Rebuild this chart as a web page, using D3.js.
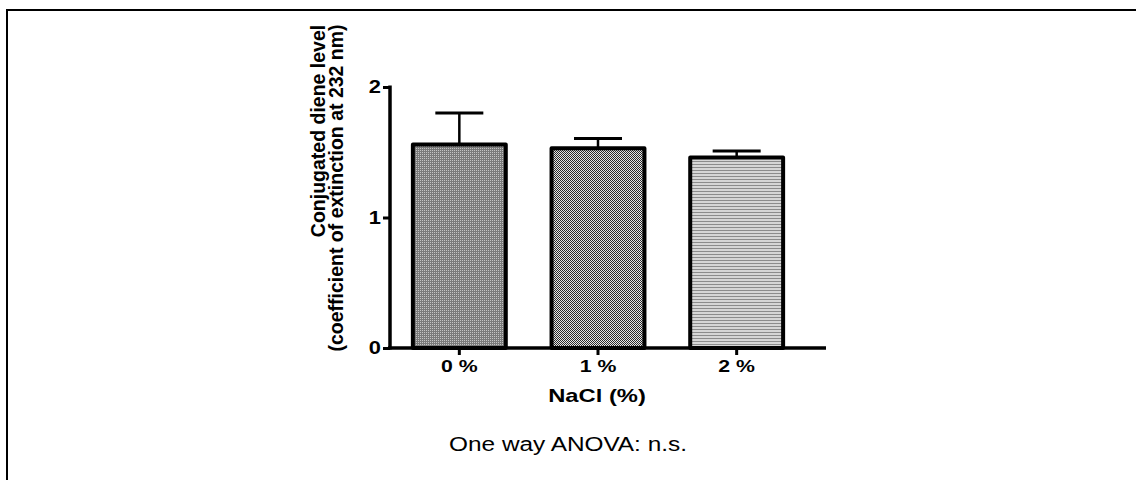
<!DOCTYPE html>
<html>
<head>
<meta charset="utf-8">
<script src="https://cdn.jsdelivr.net/npm/d3@7"></script>
<style>
  body { margin: 0; background: #fff; }
  svg { display: block; font-family: "Liberation Sans", Arial, sans-serif; }
</style>
</head>
<body>
<svg id="chart" width="1136" height="480"></svg>
<script>
const categories = ["0 %", "1 %", "2 %"]
const means = [1.56, 1.53, 1.46]
const sems = [0.24, 0.075, 0.05]
const yTicks = [0, 1, 2]
const patternIds = ["pat0", "pat1", "pat2"]

// the picture is stretched a bit horizontally, so horizontal text is too
const sx = 1.25

let svg = d3.select("#chart")

// fill patterns
let defs = svg.append("defs")
let p0 = defs.append("pattern").attr("id", "pat0").attr("width", 2).attr("height", 2)
  .attr("patternUnits", "userSpaceOnUse")
p0.append("rect").attr("width", 2).attr("height", 2).attr("fill", "#7a7a7a")
p0.append("rect").attr("width", 1).attr("height", 1).attr("fill", "#c4c4c4")

let p1 = defs.append("pattern").attr("id", "pat1").attr("width", 2).attr("height", 2)
  .attr("patternUnits", "userSpaceOnUse")
p1.append("rect").attr("width", 2).attr("height", 2).attr("fill", "#e6e6e6")
p1.append("rect").attr("width", 1).attr("height", 1).attr("fill", "#2a2a2a")
p1.append("rect").attr("x", 1).attr("y", 1).attr("width", 1).attr("height", 1).attr("fill", "#2a2a2a")

let p2 = defs.append("pattern").attr("id", "pat2").attr("width", 3).attr("height", 3)
  .attr("patternUnits", "userSpaceOnUse")
p2.append("rect").attr("width", 3).attr("height", 3).attr("fill", "#d6d6d6")
p2.append("rect").attr("y", 2).attr("width", 3).attr("height", 1).attr("fill", "#8c8c8c")

// outer frame (only top and left visible)
svg.append("path").attr("d", "M7,480 L7,10 L1136,10")
  .attr("fill", "none").attr("stroke", "#000").attr("stroke-width", 2)

let x = d3.scaleBand()
  .domain(categories)
  .range([390, 806])
  .paddingInner(0.33)
  .paddingOuter(0.165)

let y = d3.scaleLinear()
  .domain([0, 2])
  .range([348, 87])

let g = svg.append("g")

// bars
g.selectAll("rect.bar")
  .data(means).enter()
  .append("rect")
  .attr("class", "bar")
  .attr("x", (d, i) => x(categories[i]))
  .attr("y", d => y(d))
  .attr("width", x.bandwidth())
  .attr("height", d => y(0) - y(d))
  .attr("fill", (d, i) => `url(#${patternIds[i]})`)
  .attr("stroke", "#000")
  .attr("stroke-width", 4)
  .attr("stroke-linejoin", "round")

// error bars (upper only)
let capHalf = 24
means.forEach((m, i) => {
  let cx = x(categories[i]) + x.bandwidth() / 2
  g.append("line")
    .attr("x1", cx).attr("x2", cx)
    .attr("y1", y(m)).attr("y2", y(m + sems[i]))
    .attr("stroke", "#000").attr("stroke-width", 2.5)
  g.append("line")
    .attr("x1", cx - capHalf).attr("x2", cx + capHalf)
    .attr("y1", y(m + sems[i])).attr("y2", y(m + sems[i]))
    .attr("stroke", "#000").attr("stroke-width", 3)
})

// y axis
let yAxis = d3.axisLeft(y).tickValues(yTicks).tickFormat(d3.format("d"))
  .tickSize(6).tickSizeOuter(0)
let ya = svg.append("g").attr("transform", "translate(390,0)").call(yAxis)
ya.select(".domain").remove()
ya.append("line").attr("x1", 0).attr("x2", 0).attr("y1", y(2) - 1.5).attr("y2", y(0) + 1.5)
  .attr("stroke", "#000").attr("stroke-width", 3.5)
ya.selectAll(".tick line").attr("stroke-width", 3).attr("x2", -7)
ya.selectAll(".tick text")
  .attr("x", -9 / sx)
  .attr("transform", `scale(${sx},1)`)
  .attr("font-size", 17.5).attr("font-weight", "bold")
  .attr("font-family", "Liberation Sans, Arial, sans-serif").attr("fill", "#000")

// x axis
let xAxis = d3.axisBottom(x).tickSize(7).tickSizeOuter(0)
let xa = svg.append("g").attr("transform", "translate(0,348)").call(xAxis)
xa.select(".domain").remove()
xa.append("line").attr("x1", 388).attr("x2", 826).attr("y1", 0).attr("y2", 0)
  .attr("stroke", "#000").attr("stroke-width", 3.5)
xa.selectAll(".tick line").attr("stroke-width", 3)
xa.selectAll(".tick text")
  .attr("y", 12)
  .attr("transform", `scale(${sx},1)`)
  .attr("font-size", 17).attr("font-weight", "bold")
  .attr("font-family", "Liberation Sans, Arial, sans-serif").attr("fill", "#000")

// titles
svg.append("text")
  .attr("transform", `translate(597,402) scale(${sx},1)`)
  .attr("text-anchor", "middle")
  .attr("font-size", 19).attr("font-weight", "bold")
  .text("NaCl (%)")

svg.append("text")
  .attr("transform", "translate(325,131) rotate(-90)")
  .attr("text-anchor", "middle")
  .attr("font-size", 19.5).attr("font-weight", "bold")
  .text("Conjugated diene level")
svg.append("text")
  .attr("transform", "translate(343,188) rotate(-90)")
  .attr("text-anchor", "middle")
  .attr("font-size", 19.5).attr("font-weight", "bold")
  .text("(coefficient of extinction at 232 nm)")

svg.append("text")
  .attr("transform", `translate(568,451) scale(${sx},1)`)
  .attr("text-anchor", "middle")
  .attr("font-size", 19.5)
  .text("One way ANOVA: n.s.")
</script>
</body>
</html>
